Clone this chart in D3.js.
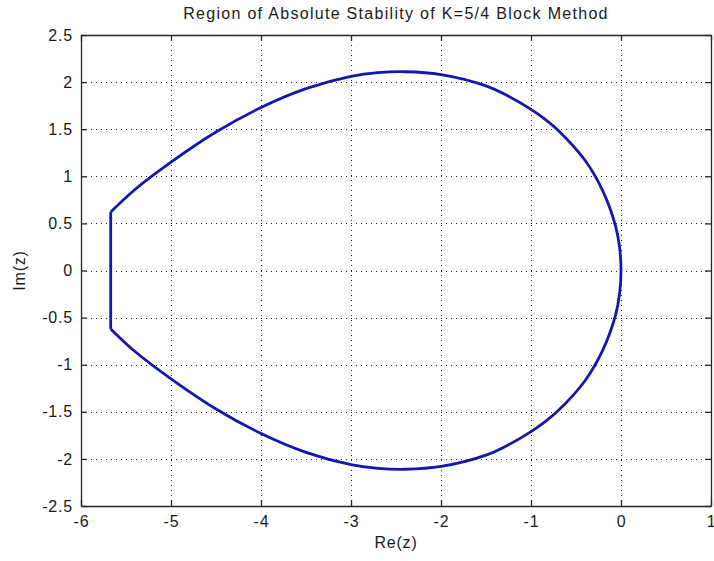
<!DOCTYPE html>
<html>
<head lang="en">
  <meta charset="UTF-8">
  <title>Region of Absolute Stability</title>
  <script src="https://cdn.jsdelivr.net/npm/d3@7"></script>
</head>
<style>
  body { margin: 0; background: #fff; }
  #chart text { font-family: "Liberation Sans", Arial, sans-serif; fill: #1a1a1a; letter-spacing: 0.8px; }
  #chart .grid line { stroke: #222; stroke-width: 1; stroke-dasharray: 1,4; }
  #chart .boundary { fill: none; stroke: #1515b0; stroke-width: 2.8; stroke-linejoin: round; }
</style>
<body>

<svg id="chart"></svg>

<script>
  // Values
  var xTicks = [-6, -5, -4, -3, -2, -1, 0, 1];
  var yTicks = [-2.5, -2, -1.5, -1, -0.5, 0, 0.5, 1, 1.5, 2, 2.5];
  var xLabels = ['-6', '-5', '-4', '-3', '-2', '-1', '0', '1'];
  var yLabels = ['-2.5', '-2', '-1.5', '-1', '-0.5', '0', '0.5', '1', '1.5', '2', '2.5'];

  // upper arc, from the left corner round to the origin
  var upperRe = [-5.67, -5.40, -5.00, -4.50, -4.00, -3.50, -3.00, -2.70, -2.40, -2.00, -1.50, -1.25, -1.00, -0.85, -0.70, -0.40, -0.20, -0.06, -0.015, 0];
  var upperIm = [0.62, 0.86, 1.15, 1.47, 1.73, 1.93, 2.06, 2.10, 2.11, 2.08, 1.96, 1.85, 1.71, 1.61, 1.49, 1.17, 0.84, 0.47, 0.24, 0];
  // lower arc, from the origin back to the left corner
  var lowerRe = [0, -0.015, -0.06, -0.20, -0.40, -0.70, -0.85, -1.00, -1.25, -1.50, -2.00, -2.40, -2.70, -3.00, -3.50, -4.00, -4.50, -5.00, -5.40, -5.67];
  var lowerIm = [0, -0.24, -0.47, -0.84, -1.17, -1.49, -1.61, -1.71, -1.85, -1.96, -2.08, -2.11, -2.10, -2.06, -1.93, -1.73, -1.47, -1.15, -0.86, -0.62];
  // straight left edge
  var edgeRe = [-5.67, -5.67];
  var edgeIm = [-0.62, 0.62];

  var width = 714, height = 561;
  var plotL = 81, plotR = 711, plotT = 35, plotB = 506;

  var chart = d3.select('#chart')
    .attr('width', width)
    .attr('height', height);

  var x = d3.scaleLinear().domain([-6, 1]).range([plotL, plotR]);
  var y = d3.scaleLinear().domain([-2.5, 2.5]).range([plotB, plotT]);

  // dotted grid
  var grid = chart.append('g').attr('class', 'grid');
  grid.selectAll('.gx')
    .data(xTicks.slice(1, -1))
    .enter().append('line')
    .attr('x1', function(d) { return Math.round(x(d)) + 0.5; })
    .attr('x2', function(d) { return Math.round(x(d)) + 0.5; })
    .attr('y1', plotT).attr('y2', plotB);
  grid.selectAll('.gy')
    .data(yTicks.slice(1, -1))
    .enter().append('line')
    .attr('y1', function(d) { return Math.round(y(d)) + 0.5; })
    .attr('y2', function(d) { return Math.round(y(d)) + 0.5; })
    .attr('x1', plotL).attr('x2', plotR);

  // axes, ticks inward like matlab
  function styleAxis(g) {
    g.select('.domain').attr('stroke', '#262626').attr('stroke-width', 1.3);
    g.selectAll('.tick line').attr('stroke', '#262626').attr('stroke-width', 1.3);
    g.selectAll('text').attr('font-size', 16).attr('font-family', null);
  }
  var fmtX = function(d, i) { return xLabels[i]; };
  var fmtY = function(d, i) { return yLabels[i]; };

  chart.append('g')
    .attr('transform', 'translate(0,' + plotB + ')')
    .call(d3.axisBottom(x).tickValues(xTicks).tickFormat(fmtX).tickSizeInner(-6).tickSizeOuter(0).tickPadding(10))
    .call(styleAxis);
  chart.append('g')
    .attr('transform', 'translate(0,' + plotT + ')')
    .call(d3.axisTop(x).tickValues(xTicks).tickFormat('').tickSizeInner(-6).tickSizeOuter(0))
    .call(styleAxis);
  chart.append('g')
    .attr('transform', 'translate(' + plotL + ',0)')
    .call(d3.axisLeft(y).tickValues(yTicks).tickFormat(fmtY).tickSizeInner(-6).tickSizeOuter(0).tickPadding(8))
    .call(styleAxis);
  chart.append('g')
    .attr('transform', 'translate(' + plotR + ',0)')
    .call(d3.axisRight(y).tickValues(yTicks).tickFormat('').tickSizeInner(-6).tickSizeOuter(0))
    .call(styleAxis);

  chart.selectAll('.tick text').attr('fill', '#1a1a1a');

  // stability boundary
  var arc = upperRe.map(function(d, i) { return [d, upperIm[i]]; })
    .concat(lowerRe.slice(1).map(function(d, i) { return [d, lowerIm[i + 1]]; }));
  var edge = edgeRe.map(function(d, i) { return [d, edgeIm[i]]; });

  var line = d3.line()
    .x(function(d) { return x(d[0]); })
    .y(function(d) { return y(d[1]); })
    .curve(d3.curveCatmullRom.alpha(0.5));

  chart.append('path').attr('class', 'boundary').attr('d', line(arc));
  chart.append('path').attr('class', 'boundary')
    .attr('d', line.curve(d3.curveLinear)(edge));

  // labels
  chart.append('text')
    .attr('x', (plotL + plotR) / 2).attr('y', 19)
    .attr('text-anchor', 'middle').attr('font-size', 16)
    .style('letter-spacing', '1.3px')
    .text('Region of Absolute Stability of K=5/4 Block Method');
  chart.append('text')
    .attr('x', (plotL + plotR) / 2).attr('y', 548)
    .attr('text-anchor', 'middle').attr('font-size', 16)
    .text('Re(z)');
  chart.append('text')
    .attr('transform', 'translate(25,' + (plotT + plotB) / 2 + ') rotate(-90)')
    .attr('text-anchor', 'middle').attr('font-size', 16)
    .text('Im(z)');
</script>
</body>
</html>
